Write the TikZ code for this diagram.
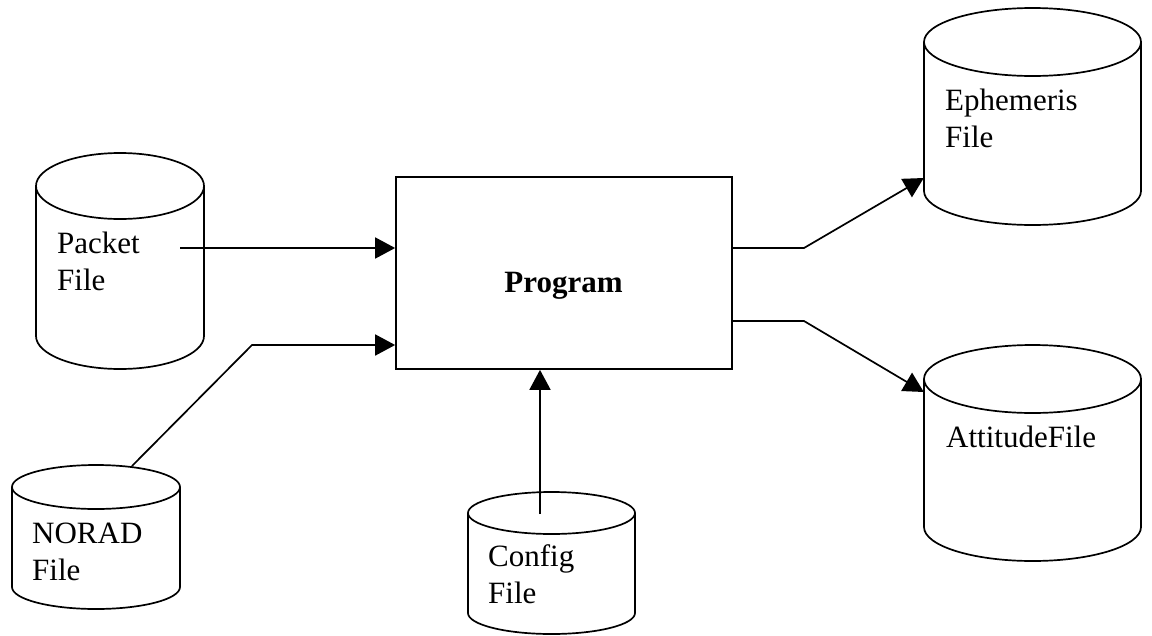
\documentclass[tikz,border=0pt]{standalone}
\usepackage{fontspec}
\setmainfont{Liberation Serif}
\usetikzlibrary{arrows.meta,fit}

% outline of a storage cylinder: left, right, top, bottom, cap half-height
\newcommand\drawstore[5]{%
  \draw[line] (#1,-#3-#5) -- (#1,-#4+#5)
    arc[start angle=180,end angle=360,x radius={(#2-#1)/2},y radius=#5]
    -- (#2,-#3-#5);
  \draw[line] ({(#1+#2)/2},-#3-#5) ellipse[x radius={(#2-#1)/2},y radius=#5];
}

\begin{document}
\begin{tikzpicture}[x=1pt,y=1pt,
  line/.style={line width=1.7pt,line join=miter},
  flow/.style={line,-{Triangle[length=20pt,width=21pt]}},
  store/.style={inner sep=0pt,draw=none},
  lbl/.style={inner sep=0pt,anchor=north west,align=left,
              font=\fontsize{31}{37}\selectfont},
]
\useasboundingbox (0,0) rectangle (1152,-635);

% processing box
\node[line,draw,inner sep=0pt,minimum width=336pt,minimum height=192pt]
  (prog) at (564,-273) {};
\node[inner sep=0pt,anchor=base,font=\fontsize{31}{37}\selectfont\bfseries]
  (prog-txt) at (563.5,-292) {Program};

% data stores
\drawstore{36}{204}{153}{369}{33}
\node[store,fit={(36,-153) (204,-369)}] (packet) {};
\node[lbl] (packet-txt) at (57,-232) {Packet\\File};

\drawstore{12}{180}{465}{609}{22}
\node[store,fit={(12,-465) (180,-609)}] (norad) {};
\node[lbl] (norad-txt) at (32,-522.5) {NORAD\\File};

\drawstore{468}{635}{492}{634}{21}
\node[store,fit={(468,-492) (635,-634)}] (config) {};
\node[lbl] (config-txt) at (488,-544) {Config\\File};

\drawstore{924}{1141}{8}{225}{34}
\node[store,fit={(924,-8) (1141,-225)}] (eph) {};
\node[lbl] (eph-txt) at (945,-89) {Ephemeris\\File};

\drawstore{924}{1141}{345}{561}{34}
\node[store,fit={(924,-345) (1141,-561)}] (att) {};
\node[lbl] (att-txt) at (946,-426) {AttitudeFile};

% connector ends inside or on the stores
\coordinate (packet-out) at (180,-248);
\coordinate (norad-out) at (132,-466);
\coordinate (norad-bend) at (252,-345);
\coordinate (config-out) at (540,-514);
\coordinate (eph-bend) at (804,-248);
\coordinate (eph-in) at (eph.west |- 0,-178);
\coordinate (att-bend) at (804,-321);
\coordinate (att-in) at (att.west |- 0,-392);

% inputs
\draw[flow] (packet-out) -- (packet-out -| prog.west);
\draw[flow] (norad-out) -- (norad-bend) -- (norad-bend -| prog.west);
\draw[flow] (config-out) -- (config-out |- prog.south);

% outputs
\draw[flow] (eph-bend -| prog.east) -- (eph-bend) -- (eph-in);
\draw[flow] (att-bend -| prog.east) -- (att-bend) -- (att-in);
\end{tikzpicture}
\end{document}
